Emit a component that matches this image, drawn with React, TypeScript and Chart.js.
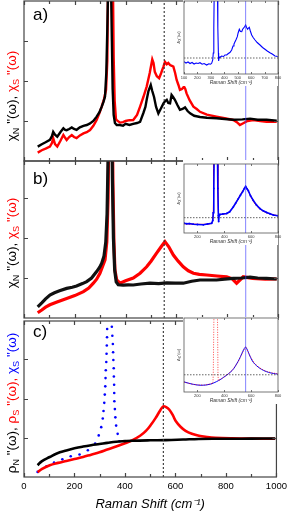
import React, { useEffect, useRef } from "react";
import { Chart, registerables } from "chart.js";
Chart.register(...registerables);

// ---------- Panel a (raw spectra) ----------
const aNormalX = [54, 70, 85, 102, 110, 115, 122, 131, 143, 155, 162, 168, 178, 188, 197, 207, 220, 234, 247, 260, 273, 286, 297, 306, 313, 319, 324, 328, 332, 338, 342, 346, 349, 353, 358, 365, 378, 390, 400, 415, 430, 445, 457, 470, 478, 483, 490, 499, 505, 512, 520, 529, 538, 549, 556, 562, 568, 575, 581, 587, 594, 604, 614, 624, 634, 644, 654, 670, 693, 720, 758, 790, 824, 860, 890, 920, 955, 975, 995];
const aNormalY = [0.36, 0.42, 0.47, 0.53, 0.62, 0.73, 0.66, 0.61, 0.72, 0.82, 0.78, 0.77, 0.8, 0.84, 0.8, 0.78, 0.84, 0.88, 0.9, 0.94, 1.0, 1.11, 1.22, 1.36, 1.48, 1.61, 2.2, 3.3, 4.6, 6, 4.6, 3.0, 1.8, 1.15, 0.95, 0.9, 0.9, 0.88, 0.93, 0.9, 0.93, 0.95, 0.98, 1.2, 1.35, 1.53, 1.75, 1.9, 1.75, 1.6, 1.35, 1.19, 1.3, 1.44, 1.5, 1.53, 1.45, 1.44, 1.65, 1.6, 1.53, 1.4, 1.28, 1.3, 1.34, 1.25, 1.19, 1.13, 1.1, 1.08, 1.07, 1.05, 1.03, 1.04, 1.06, 1.03, 1.03, 1.02, 1.01];
const aSuperX = [54, 70, 85, 102, 110, 115, 122, 131, 143, 155, 162, 168, 178, 188, 197, 207, 220, 234, 247, 260, 273, 286, 297, 306, 315, 323, 328, 331, 340, 350, 353, 357, 362, 365, 378, 390, 400, 415, 430, 445, 457, 470, 483, 495, 505, 510, 515, 523, 532, 540, 549, 555, 562, 568, 575, 582, 588, 595, 601, 608, 614, 622, 630, 635, 640, 652, 667, 680, 693, 720, 758, 790, 824, 838, 850, 865, 880, 903, 930, 955, 975, 995];
const aSuperY = [0.21, 0.27, 0.31, 0.36, 0.45, 0.57, 0.42, 0.36, 0.5, 0.65, 0.58, 0.525, 0.6, 0.65, 0.6, 0.57, 0.64, 0.69, 0.72, 0.775, 0.88, 1.025, 1.2, 1.36, 1.55, 1.78, 2.5, 4.5, 6, 4.5, 2.6, 1.5, 1.05, 1.02, 0.96, 0.97, 1.0, 1.02, 1.025, 1.15, 1.36, 1.6, 1.86, 2.2, 2.54, 2.45, 2.23, 2.12, 2.07, 2.2, 2.36, 2.48, 2.42, 2.45, 2.4, 2.38, 2.36, 2.2, 2.025, 1.9, 1.78, 1.8, 1.86, 1.8, 1.69, 1.52, 1.36, 1.3, 1.23, 1.16, 1.11, 1.07, 1.025, 0.97, 0.9, 0.95, 1.0, 1.025, 1.0, 0.98, 0.98, 0.98];

// ---------- Panel b (phonon-subtracted) ----------
const bNormalX = [54, 70, 85, 102, 120, 140, 168, 190, 207, 230, 247, 266, 286, 298, 306, 315, 322, 327, 331, 335, 344, 348, 352, 357, 363, 371, 390, 410, 430, 460, 496, 530, 562, 595, 627, 660, 693, 725, 758, 790, 824, 857, 890, 920, 955, 995];
const bNormalY = [0.28, 0.38, 0.48, 0.575, 0.63, 0.68, 0.74, 0.77, 0.8, 0.86, 0.91, 1.0, 1.16, 1.27, 1.37, 1.55, 1.9, 2.6, 4.0, 6, 6, 3.5, 2.0, 1.2, 0.9, 0.83, 0.82, 0.83, 0.825, 0.85, 0.87, 0.86, 0.88, 0.87, 0.87, 0.92, 0.95, 0.95, 0.95, 0.97, 0.99, 1.0, 1.02, 1.0, 0.99, 0.975];
const bSuperX = [54, 70, 85, 102, 130, 168, 200, 234, 255, 273, 286, 299, 310, 319, 326, 331, 336, 346, 350, 354, 358, 365, 378, 400, 430, 457, 483, 500, 522, 540, 555, 570, 588, 607, 627, 647, 667, 690, 719, 760, 798, 820, 837, 850, 863, 900, 950, 995];
const bSuperY = [0.13, 0.2, 0.27, 0.33, 0.4, 0.49, 0.56, 0.66, 0.75, 0.87, 0.97, 1.12, 1.3, 1.45, 1.9, 3.0, 6, 6, 3.4, 1.9, 1.2, 0.95, 0.87, 0.93, 1.0, 1.12, 1.28, 1.42, 1.62, 1.78, 1.91, 1.78, 1.575, 1.42, 1.28, 1.18, 1.12, 1.09, 1.075, 1.05, 1.03, 0.98, 0.87, 0.95, 1.03, 0.99, 0.97, 0.975];

// ---------- Panel c (model) ----------
const cNormalX = [54, 70, 102, 130, 168, 200, 234, 266, 299, 330, 365, 400, 430, 500, 562, 630, 693, 760, 824, 900, 995];
const cNormalY = [0.3, 0.4, 0.51, 0.6, 0.675, 0.73, 0.775, 0.81, 0.84, 0.87, 0.9, 0.915, 0.925, 0.935, 0.94, 0.955, 0.97, 0.975, 0.975, 0.978, 0.98];
const cSuperX = [54, 70, 102, 135, 168, 200, 234, 266, 299, 330, 365, 400, 430, 460, 483, 505, 522, 540, 552, 563, 575, 590, 601, 620, 640, 665, 693, 725, 758, 824, 900, 995];
const cSuperY = [0.12, 0.2, 0.3, 0.36, 0.41, 0.46, 0.51, 0.57, 0.63, 0.7, 0.775, 0.86, 0.94, 1.05, 1.175, 1.35, 1.51, 1.7, 1.8, 1.78, 1.72, 1.57, 1.425, 1.28, 1.175, 1.1, 1.05, 1.02, 1.0, 0.985, 0.978, 0.975];
const cChiX = [54, 89, 119, 152, 185, 220, 253, 282, 296, 306, 312, 315, 318, 320, 322, 323, 324, 326, 327, 328, 329, 329.5, 348, 350, 352, 353, 354, 355.5, 356, 357, 357.5, 358, 360, 362, 365, 371, 378];
const cChiY = [0.13, 0.275, 0.37, 0.45, 0.53, 0.575, 0.68, 0.85, 1.06, 1.27, 1.49, 1.68, 1.89, 2.1, 2.31, 2.52, 2.72, 2.93, 3.14, 3.35, 3.56, 3.77, 3.83, 3.6, 3.39, 3.18, 2.98, 2.77, 2.56, 2.35, 2.14, 1.93, 1.73, 1.52, 1.31, 1.1, 0.91];

// ---------- Insets (difference spectra) ----------
const iaX = [100, 115, 130, 145, 160, 175, 190, 205, 219, 235, 250, 269, 285, 298, 306, 314, 318, 322, 326, 348, 352, 356, 358, 362, 368, 380, 395, 405, 418, 430, 442, 455, 465, 472, 480, 488, 497, 503, 512, 520, 530, 536, 542, 550, 559, 566, 574, 580, 586, 594, 604, 615, 629, 645, 666, 685, 703, 720, 740, 760, 777, 790, 798];
const iaY = [-0.37, -0.5, -0.4, -0.55, -0.45, -0.6, -0.5, -0.55, -0.47, -0.62, -0.55, -0.7, -0.58, -0.62, -0.53, -0.2, 0.5, 3, 8, 8, 3, 0.5, -0.3, 0.1, 0.07, 0.2, 0.15, 0.3, 0.3, 0.45, 0.55, 0.8, 1.2, 1.4, 1.63, 1.85, 2.13, 2.5, 2.87, 2.65, 2.63, 2.85, 2.97, 3.1, 3.3, 3.05, 2.87, 3.0, 3.07, 2.7, 2.3, 2.05, 1.8, 1.55, 1.3, 1.05, 0.87, 0.7, 0.53, 0.38, 0.2, 0.18, 0.13];
const ibDataX = [100, 120, 140, 169, 200, 244, 275, 306, 314, 318, 322, 326, 348, 352, 356, 358, 362, 368, 390, 418, 440, 467, 485, 504, 520, 537, 550, 559, 570, 579, 595, 616, 640, 666, 690, 716, 740, 765, 798];
const ibDataY = [-0.57, -0.62, -0.6, -0.67, -0.7, -0.73, -0.65, -0.57, -0.3, 0.5, 3, 8, 8, 3, 0.2, -0.4, 0.3, 0.33, 0.38, 0.43, 0.6, 1.1, 1.5, 1.93, 2.3, 2.67, 3.0, 3.2, 2.95, 2.77, 2.25, 1.77, 1.3, 0.93, 0.7, 0.53, 0.4, 0.27, 0.2];
const ibFitX = [100, 150, 200, 250, 300, 314, 320, 324, 350, 354, 358, 370, 400, 430, 460, 490, 520, 545, 559, 575, 600, 630, 660, 700, 750, 798];
const ibFitY = [-0.62, -0.65, -0.68, -0.68, -0.6, -0.3, 2, 8, 8, 2, 0.3, 0.32, 0.38, 0.5, 0.95, 1.6, 2.35, 2.9, 3.15, 2.85, 2.1, 1.4, 0.95, 0.6, 0.35, 0.2];
const icBlueX = [100, 145, 194, 244, 294, 343, 393, 443, 470, 492, 512, 530, 545, 559, 568, 579, 596, 616, 640, 666, 690, 716, 740, 765, 798];
const icBlueY = [-0.7, -0.87, -1.0, -1.03, -0.93, -0.67, -0.27, 0.23, 0.6, 1.07, 1.55, 2.07, 2.5, 2.73, 2.55, 2.23, 1.7, 1.23, 0.9, 0.63, 0.45, 0.3, 0.2, 0.13, 0.07];
const icRedX = [100, 150, 200, 250, 300, 315, 318, 322, 326, 346, 350, 353, 356, 400, 450, 500, 530, 559, 590, 620, 660, 700, 750, 798];
const icRedY = [-0.72, -0.9, -1.0, -1.02, -0.9, -0.85, 0, 5, 8, 8, 5, 0, -0.6, -0.2, 0.3, 1.2, 2.0, 2.78, 1.9, 1.2, 0.7, 0.4, 0.2, 0.1];

// ---------- ticks / markers ----------
const mainXMajor = [0, 200, 400, 600, 800, 1000];
const mainXMinor = [100, 300, 500, 700, 900];
const mainYTicks = [1, 2, 3];
const insetTicksA = [100, 200, 300, 400, 500, 600, 700, 800];
const insetTicksBC = [200, 400, 600, 800];
const peakMarker = 552;
const insetPeak = 559;
const mainBlueMarker = 873;

const RED = "#ff0000";
const BLUE = "#0000ff";
const FONT = '"Liberation Sans", Arial, sans-serif';

const pts = (xs: number[], ys: number[]) => xs.map((x, i) => ({ x, y: ys[i] }));

function framePlugin(conf: any) {
  return {
    id: "frame" + Math.random().toString(36).slice(2),
    beforeDraw(chart: any) {
      if (!conf.white) return;
      const { ctx, chartArea: a } = chart;
      ctx.save();
      ctx.fillStyle = "#fff";
      ctx.fillRect(a.left - 1, 0, a.right - a.left + 1, chart.height);
      ctx.restore();
    },
    afterDatasetsDraw(chart: any) {
      const { ctx, chartArea: a, scales } = chart;
      ctx.save();
      ctx.strokeStyle = conf.color;
      ctx.lineWidth = conf.width;
      ctx.beginPath();
      const tick = (vals: number[], len: number) => {
        for (const v of vals) {
          const px = Math.round(scales.x.getPixelForValue(v)) + 0.5;
          ctx.moveTo(px, a.bottom);
          ctx.lineTo(px, a.bottom - len);
          ctx.moveTo(px, a.top);
          ctx.lineTo(px, a.top + len);
        }
      };
      tick(conf.xMajor || [], conf.major);
      tick(conf.xMinor || [], conf.minor);
      for (const v of conf.yTicks || []) {
        const py = Math.round(scales.y.getPixelForValue(v)) + 0.5;
        ctx.moveTo(a.left, py);
        ctx.lineTo(a.left + conf.major, py);
        ctx.moveTo(a.right, py);
        ctx.lineTo(a.right - conf.major, py);
      }
      ctx.stroke();
      ctx.strokeRect(a.left, a.top, a.right - a.left, a.bottom - a.top);
      ctx.restore();
    },
  };
}

function vline(x: number, y0: number, y1: number, color: string, width: number, dash: number[]) {
  return {
    data: [{ x, y: y0 }, { x, y: y1 }],
    borderColor: color,
    borderWidth: width,
    borderDash: dash,
    pointRadius: 0,
  };
}

function mainConfig(datasets: any[], yMax: number, showX: boolean) {
  const xScale: any = {
    type: "linear",
    min: 0,
    max: 1000,
    display: showX,
  };
  if (showX) {
    Object.assign(xScale, {
      afterBuildTicks: (s: any) => {
        s.ticks = mainXMajor.map((v) => ({ value: v }));
      },
      ticks: {
        color: "#000",
        font: { size: 9.5, family: FONT },
        padding: 4,
        maxRotation: 0,
        autoSkip: false,
        callback: (v: any) => String(v),
      },
      grid: { display: false, drawTicks: false },
      border: { display: false },
      title: {
        display: true,
        text: "Raman Shift (cm⁻¹)",
        color: "#000",
        font: { size: 13, family: FONT, style: "italic" },
        padding: { top: 0, bottom: 0 },
      },
      afterFit: (s: any) => {
        s.height = 35;
      },
    });
  }
  return {
    type: "line",
    data: { datasets },
    options: {
      animation: false,
      responsive: false,
      events: [],
      layout: { padding: { left: 24, right: 13, top: 1, bottom: showX ? 0 : 1 } },
      plugins: { legend: { display: false }, tooltip: { enabled: false } },
      scales: {
        x: xScale,
        y: { type: "linear", min: 0, max: yMax, display: false },
      },
    },
    plugins: [
      framePlugin({ color: "#444", width: 1.2, xMajor: mainXMajor, xMinor: mainXMinor, yTicks: mainYTicks, major: 4, minor: 3 }),
    ],
  };
}

function insetConfig(datasets: any[], yMin: number, yMax: number, xTicks: number[]) {
  return {
    type: "line",
    data: { datasets },
    options: {
      animation: false,
      responsive: false,
      events: [],
      layout: { padding: { left: 4, right: 13, top: 1, bottom: 0 } },
      plugins: { legend: { display: false }, tooltip: { enabled: false } },
      scales: {
        x: {
          type: "linear",
          min: 100,
          max: 800,
          afterBuildTicks: (s: any) => {
            s.ticks = xTicks.map((v) => ({ value: v }));
          },
          ticks: {
            color: "#333",
            font: { size: 4, family: FONT },
            padding: 1,
            maxRotation: 0,
            autoSkip: false,
            callback: (v: any) => String(v),
          },
          grid: { display: false, drawTicks: false },
          border: { display: false },
          title: {
            display: true,
            text: "Raman Shift (cm⁻¹)",
            color: "#333",
            font: { size: 5, family: FONT, style: "italic" },
            padding: { top: 0, bottom: 0 },
          },
          afterFit: (s: any) => {
            s.height = 12;
          },
        },
        y: {
          type: "linear",
          min: yMin,
          max: yMax,
          ticks: { display: false },
          grid: { display: false, drawTicks: false },
          border: { display: false },
          title: { display: true, text: "Δχ\"(ω)", color: "#333", font: { size: 4, family: FONT }, padding: 0 },
          afterFit: (s: any) => {
            s.width = 8;
          },
        },
      },
    },
    plugins: [framePlugin({ white: true, color: "#555", width: 0.8, xMajor: xTicks, xMinor: [], yTicks: [], major: 2, minor: 1 })],
  };
}

const lineDs = (data: any[], color: string, width: number, extra: any = {}) => ({
  data,
  borderColor: color,
  backgroundColor: color,
  borderWidth: width,
  pointRadius: 0,
  ...extra,
});

const makeA = () =>
  mainConfig(
    [
      vline(peakMarker, 0, 4.1, "#333", 1.1, [2, 2]),
      vline(mainBlueMarker, 0, 4.1, "rgba(60,60,255,0.8)", 0.8, []),
      lineDs(pts(aNormalX, aNormalY), "#000", 2.4),
      lineDs(pts(aSuperX, aSuperY), RED, 2.4),
    ],
    4.0,
    false
  );

const makeB = () =>
  mainConfig(
    [
      vline(peakMarker, 0, 4.1, "#333", 1.1, [2, 2]),
      vline(mainBlueMarker, 0, 4.1, "rgba(60,60,255,0.8)", 0.8, []),
      lineDs(pts(bNormalX, bNormalY), "#111", 3.2),
      lineDs(pts(bSuperX, bSuperY), RED, 3.2),
    ],
    3.925,
    false
  );

const makeC = () =>
  mainConfig(
    [
      vline(peakMarker, 0, 4.1, "#333", 1.1, [2, 2]),
      lineDs(pts(cNormalX, cNormalY), "#000", 2.6, { tension: 0.4 }),
      lineDs(pts(cSuperX, cSuperY), RED, 2.6, { tension: 0.4 }),
      {
        data: pts(cChiX, cChiY),
        showLine: false,
        pointRadius: 1.3,
        pointBorderWidth: 0,
        pointBackgroundColor: BLUE,
        borderColor: BLUE,
      },
    ],
    3.975,
    true
  );

const makeIA = () =>
  insetConfig(
    [
      vline(insetPeak, -2, 6, "rgba(60,60,255,0.8)", 0.8, []),
      lineDs([{ x: 100, y: 0 }, { x: 800, y: 0 }], "#222", 0.7, { borderDash: [1.5, 1.5] }),
      lineDs(pts(iaX, iaY), BLUE, 1.1),
    ],
    -1.6,
    5.7,
    insetTicksA
  );

const makeIB = () =>
  insetConfig(
    [
      vline(insetPeak, -2, 6, "rgba(60,60,255,0.8)", 0.8, []),
      lineDs([{ x: 100, y: 0 }, { x: 800, y: 0 }], "#222", 0.7, { borderDash: [1.5, 1.5] }),
      lineDs(pts(ibDataX, ibDataY), BLUE, 1.6, { pointRadius: 0.9, pointBackgroundColor: BLUE, pointBorderWidth: 0 }),
      lineDs(pts(ibFitX, ibFitY), RED, 1.0, { tension: 0.3 }),
    ],
    -1.57,
    5.5,
    insetTicksBC
  );

const makeIC = () =>
  insetConfig(
    [
      vline(insetPeak, -2, 6, "rgba(60,60,255,0.8)", 0.8, []),
      lineDs([{ x: 100, y: 0 }, { x: 800, y: 0 }], "#222", 0.7, { borderDash: [1.5, 1.5] }),
      lineDs(pts(icRedX, icRedY), "rgba(255,0,0,0.8)", 0.9, { borderDash: [1, 1.5] }),
      lineDs(pts(icBlueX, icBlueY), BLUE, 1.0, { tension: 0.4 }),
    ],
    -1.7,
    5.6,
    insetTicksBC
  );

function ChartCanvas({ make, left, top, width, height }: any) {
  const ref = useRef<HTMLCanvasElement>(null);
  useEffect(() => {
    const chart = new Chart(ref.current as HTMLCanvasElement, make());
    return () => chart.destroy();
  }, []);
  return (
    <canvas
      ref={ref}
      width={width}
      height={height}
      style={{ position: "absolute", left, top, width, height }}
    />
  );
}

const sub = { fontSize: "0.68em", verticalAlign: "-0.3em" };

function YTitle({ top, children }: any) {
  return (
    <div
      style={{
        position: "absolute",
        left: 13,
        top,
        transform: "translate(-50%,-50%) rotate(-90deg)",
        whiteSpace: "nowrap",
        fontSize: 13.5,
        lineHeight: 1,
        fontFamily: FONT,
      }}
    >
      {children}
    </div>
  );
}

function PanelLabel({ top, text }: any) {
  return (
    <div style={{ position: "absolute", left: 33, top, fontSize: 17, lineHeight: 1, fontFamily: FONT, color: "#000" }}>
      {text}
    </div>
  );
}

export default function App() {
  return (
    <div
      style={{
        position: "absolute",
        left: 0,
        top: 0,
        width: 291,
        height: 512,
        background: "#fff",
        overflow: "hidden",
      }}
    >
      <ChartCanvas make={makeA} left={0} top={0} width={291} height={162} />
      <ChartCanvas make={makeB} left={0} top={160} width={291} height={159} />
      <ChartCanvas make={makeC} left={0} top={317} width={291} height={195} />
      <ChartCanvas make={makeIA} left={172} top={0} width={119} height={86} />
      <ChartCanvas make={makeIB} left={172} top={160} width={119} height={85} />
      <ChartCanvas make={makeIC} left={172} top={317} width={119} height={87} />
      <PanelLabel top={6} text="a)" />
      <PanelLabel top={170} text="b)" />
      <PanelLabel top={323} text="c)" />
      <YTitle top={96}>
        <span style={{ color: "#000" }}>
          χ<span style={sub}>N</span> "(ω),{" "}
        </span>
        <span style={{ color: RED }}>
          χ<span style={sub}>S</span> "(ω)
        </span>
      </YTitle>
      <YTitle top={243}>
        <span style={{ color: "#000" }}>
          χ<span style={sub}>N</span> "(ω),{" "}
        </span>
        <span style={{ color: RED }}>
          χ<span style={sub}>S</span> "(ω)
        </span>
      </YTitle>
      <YTitle top={403}>
        <span style={{ color: "#000" }}>
          ρ<span style={sub}>N</span> "(ω),{" "}
        </span>
        <span style={{ color: RED }}>
          ρ<span style={sub}>S</span> "(ω),{" "}
        </span>
        <span style={{ color: BLUE }}>
          χ<span style={sub}>S</span> "(ω)
        </span>
      </YTitle>
    </div>
  );
}
